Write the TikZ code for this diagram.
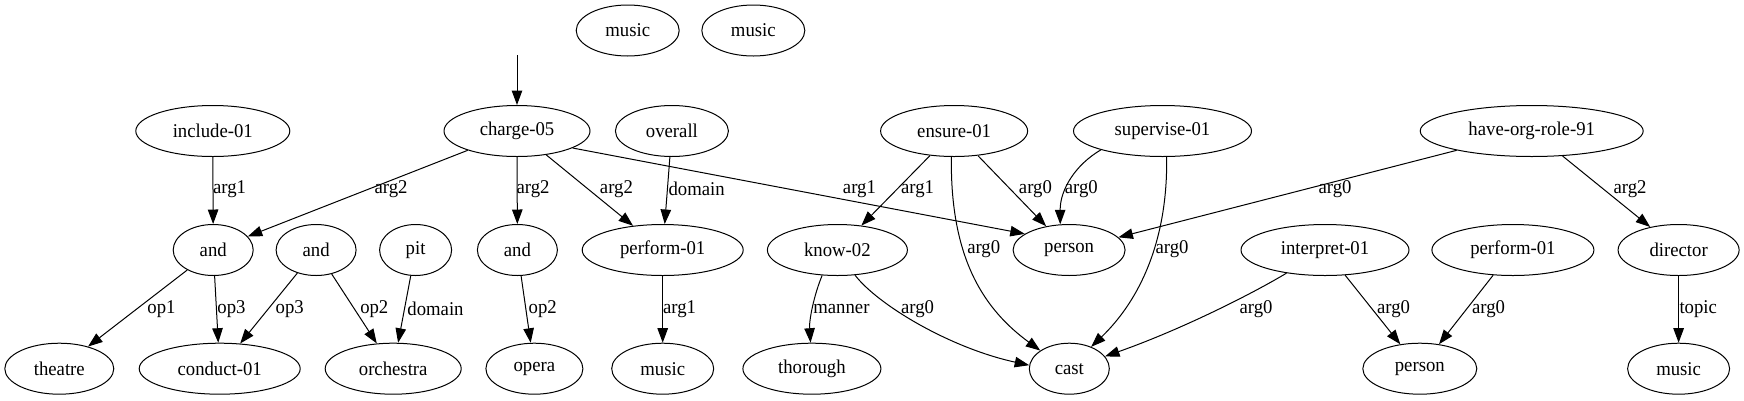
\documentclass[tikz,border=0pt]{standalone}
\usepackage{fontspec}
\setmainfont{Liberation Serif}[FakeStretch=0.96]
\usetikzlibrary{shapes.geometric,arrows.meta}
\begin{document}
\begin{tikzpicture}[x=1pt,y=-1pt,
  nd/.style={ellipse,draw,line width=1pt,inner sep=0pt,minimum height=51pt,font=\fontsize{19.5}{20}\selectfont},
  lbl/.style={inner sep=0pt,font=\fontsize{19.5}{20}\selectfont},
  e/.style={line width=1pt,-{Triangle[length=14.5pt,width=10.5pt]}}]
\useasboundingbox (0,0) rectangle (1744,400);
% top row
\node[nd,minimum width=103pt] (m1) at (627.7,30.5) {music};
\node[nd,minimum width=103pt] (m2) at (753.3,30.5) {music};
\coordinate (start) at (517,55);
% row 1
\node[nd,minimum width=154pt] (inc) at (212.8,131) {include-01};
\node[nd,minimum width=146pt] (chg) at (517,131) {charge-05};
\node[nd,minimum width=113pt] (ovr) at (671.9,131) {overall};
\node[nd,minimum width=147pt] (ens) at (954.1,131) {ensure-01};
\node[nd,minimum width=178pt] (sup) at (1162.5,131) {supervise-01};
\node[nd,minimum width=223pt] (hor) at (1531.7,131) {have-org-role-91};
% row 2
\node[nd,minimum width=80pt] (and1) at (213.2,250) {and};
\node[nd,minimum width=80pt] (and2) at (316.1,250) {and};
\node[nd,minimum width=72pt] (pit) at (415.6,250) {pit};
\node[nd,minimum width=80pt] (and3) at (517.4,250) {and};
\node[nd,minimum width=161pt] (perfL) at (662.7,250) {perform-01};
\node[nd,minimum width=140pt] (know) at (837.4,250) {know-02};
\node[nd,minimum width=112pt] (perM) at (1069.1,250) {person};
\node[nd,minimum width=168pt] (intp) at (1325,250) {interpret-01};
\node[nd,minimum width=162pt] (perfR) at (1512.9,250) {perform-01};
\node[nd,minimum width=121pt] (dir) at (1678.6,250) {director};
% row 3
\node[nd,minimum width=109pt] (thea) at (59.3,368.7) {theatre};
\node[nd,minimum width=161pt] (cond) at (219.7,368.7) {conduct-01};
\node[nd,minimum width=136pt] (orch) at (393.2,368.7) {orchestra};
\node[nd,minimum width=97pt] (opera) at (534.4,368.7) {opera};
\node[nd,minimum width=102pt] (musL) at (662.7,368.7) {music};
\node[nd,minimum width=138pt] (thor) at (811.9,368.7) {thorough};
\node[nd,minimum width=80pt] (cast) at (1069.3,368.7) {cast};
\node[nd,minimum width=114pt] (perR) at (1419.8,368.7) {person};
\node[nd,minimum width=102pt] (musR) at (1678.6,368.7) {music};
% edges
\draw[e] (start) -- (chg);
\draw[e] (inc) -- (and1);
\draw[e] (chg) -- (and1);
\draw[e] (chg) -- (and3);
\draw[e] (chg) -- (perfL);
\draw[e] (chg.-17) -- (perM.160);
\draw[e] (ovr) -- (perfL);
\draw[e] (ens) -- (know);
\draw[e] (ens.-96) .. controls (950,260) and (985,310) .. (cast.148);
\draw[e] (ens) -- (perM);
\draw[e] (sup.-163) .. controls (1075,165) and (1060,190) .. (perM.109);
\draw[e] (sup.-81) .. controls (1168,240) and (1140,300) .. (cast.45);
\draw[e] (hor) -- (perM);
\draw[e] (hor) -- (dir);
\draw[e] (and1) -- (thea);
\draw[e] (and1) -- (cond);
\draw[e] (and2) -- (cond);
\draw[e] (and2) -- (orch);
\draw[e] (pit) -- (orch);
\draw[e] (and3) -- (opera);
\draw[e] (perfL) -- (musL);
\draw[e] (know.-121) .. controls (814,295) and (809,320) .. (thor.93);
\draw[e] (know.-55) .. controls (878,305) and (950,348) .. (cast.175);
\draw[e] (intp.-149) .. controls (1250,295) and (1180,330) .. (cast.19);
\draw[e] (intp) -- (perR);
\draw[e] (perfR) -- (perR);
\draw[e] (dir) -- (musR);
% labels
\node[lbl] (l1) at (229.5,189.3) {arg1};
\node[lbl] (l2) at (391.1,189.3) {arg2};
\node[lbl] (l3) at (533.1,189.3) {arg2};
\node[lbl] (l4) at (616.4,189.3) {arg2};
\node[lbl] (l5) at (859.4,189.3) {arg1};
\node[lbl] (l6) at (696.7,189.3) {domain};
\node[lbl] (l7) at (917.5,189.3) {arg1};
\node[lbl] (l8) at (983.7,249.3) {arg0};
\node[lbl] (l9) at (1035.4,189.3) {arg0};
\node[lbl] (l10) at (1081.3,189.3) {arg0};
\node[lbl] (l11) at (1172,249.3) {arg0};
\node[lbl] (l12) at (1335,189.3) {arg0};
\node[lbl] (l13) at (1630,189.3) {arg2};
\node[lbl] (l14) at (161.5,308.7) {op1};
\node[lbl] (l15) at (231.5,308.7) {op3};
\node[lbl] (l16) at (289.7,308.7) {op3};
\node[lbl] (l17) at (374.3,308.7) {op2};
\node[lbl] (l18) at (435.5,308.7) {domain};
\node[lbl] (l19) at (542.7,308.7) {op2};
\node[lbl] (l20) at (679.5,308.7) {arg1};
\node[lbl] (l21) at (841.4,308.7) {manner};
\node[lbl] (l22) at (917.5,308.7) {arg0};
\node[lbl] (l23) at (1256.1,308.7) {arg0};
\node[lbl] (l24) at (1393.5,308.7) {arg0};
\node[lbl] (l25) at (1488.5,308.7) {arg0};
\node[lbl] (l26) at (1698.2,308.7) {topic};
\end{tikzpicture}
\end{document}
